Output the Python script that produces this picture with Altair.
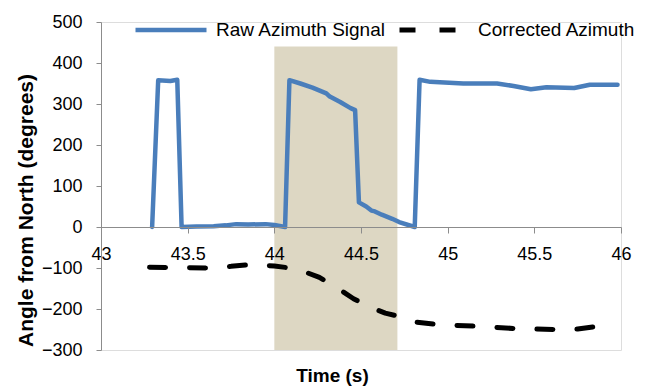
import altair as alt
import pandas as pd

# ---- data ----
raw_t = [43.295, 43.33, 43.40, 43.44, 43.465, 43.55, 43.65, 43.72, 43.78, 43.85, 43.95, 44.0,
         44.062, 44.087, 44.15, 44.22, 44.30, 44.32, 44.38, 44.44, 44.466, 44.488, 44.53, 44.56,
         44.58, 44.62, 44.68, 44.72, 44.81, 44.838, 44.90, 45.09, 45.285, 45.38, 45.48, 45.57,
         45.73, 45.82, 45.98]
raw_v = [0, 358, 356, 359, 0, 1, 2, 4, 7, 6, 7, 5,
         0, 358, 350, 340, 326, 318, 305, 290, 285, 60, 50, 40,
         38, 30, 20, 12, 0, 359, 354, 350, 350, 344, 336, 341,
         339, 347, 347]

cor_t = [43.28, 43.45, 43.61, 43.75, 43.85, 44.0, 44.09, 44.18, 44.26, 44.35, 44.457, 44.55,
         44.64, 44.71, 44.82, 44.94, 45.17, 45.40, 45.63, 45.75, 45.87]
cor_v = [-98, -99, -100, -96, -92, -95, -100, -110, -123, -145, -175, -195,
         -210, -217, -232, -238, -242, -248, -250, -249, -242]

shade_t = [44.0, 44.71]
shade_v = [-300, 440]

x_ticks = [43, 43.5, 44, 44.5, 45, 45.5, 46]
y_ticks = [-300, -200, -100, 0, 100, 200, 300, 400, 500]

raw_name = "Raw Azimuth Signal"
cor_name = "Corrected Azimuth"

raw_df = pd.DataFrame({"t": raw_t, "v": raw_v, "i": range(len(raw_t)), "s": raw_name})
cor_df = pd.DataFrame({"t": cor_t, "v": cor_v, "i": range(len(cor_t)), "s": cor_name})
shade_df = pd.DataFrame({"t0": [shade_t[0]], "t1": [shade_t[1]], "v0": [shade_v[0]], "v1": [shade_v[1]]})

FONT = "Liberation Sans"

xscale = alt.Scale(domain=[43, 46], nice=False, zero=False)
yscale = alt.Scale(domain=[-300, 500], nice=False)

xaxis = alt.Axis(values=x_ticks, format="~g", offset=-123, grid=False,
                 domainColor="#8c8c8c", tickColor="#8c8c8c", tickSize=6,
                 labelPadding=12, labelFontSize=18, labelColor="black", labelFont=FONT,
                 labelFlush=False, labelOverlap=False,
                 title="Time (s)", titleFont=FONT, titleFontSize=19, titleFontWeight="bold",
                 titleColor="black", titleX=231, titleY=139, titleBaseline="top",
                 titleAlign="center", titleAnchor="start", zindex=1)

yaxis = alt.Axis(values=y_ticks, format="d", grid=False,
                 domainColor="#8c8c8c", tickColor="#8c8c8c", tickSize=5,
                 labelPadding=14, labelFontSize=18, labelColor="black", labelFont=FONT,
                 labelFlush=False, labelOverlap=False,
                 title="Angle from North (degrees)", titleFont=FONT, titleFontSize=21,
                 titleFontWeight="bold", titleColor="black", titleX=-75, titleY=188,
                 titleAngle=270, titleBaseline="middle", titleAlign="center",
                 titleAnchor="start", zindex=1)

shade = alt.Chart(shade_df).mark_rect(color="#ddd7c3").encode(
    x=alt.X("t0:Q", scale=xscale, axis=xaxis),
    x2="t1:Q",
    y=alt.Y("v0:Q", scale=yscale, axis=yaxis),
    y2="v1:Q",
)

raw_line = alt.Chart(raw_df).mark_line(strokeWidth=4.5, strokeCap="round", strokeJoin="round").encode(
    x=alt.X("t:Q", scale=xscale),
    y=alt.Y("v:Q", scale=yscale),
    order="i:Q",
    color=alt.Color("s:N", scale=alt.Scale(domain=[raw_name], range=["#4a7ebb"]),
                    legend=alt.Legend(orient="none", legendX=32, legendY=-30, title=None,
                                      symbolType="stroke", symbolSize=5041, symbolStrokeWidth=4.5,
                                      labelFontSize=19, labelFont=FONT, labelColor="black",
                                      labelOffset=7, labelLimit=400, padding=0)),
)

cor_line = alt.Chart(cor_df).mark_line(strokeWidth=5, strokeCap="round", strokeJoin="round",
                                       color="black").encode(
    x=alt.X("t:Q", scale=xscale),
    y=alt.Y("v:Q", scale=yscale),
    order="i:Q",
    strokeDash=alt.StrokeDash("s:N", scale=alt.Scale(domain=[cor_name], range=[[16, 24]]),
                              legend=alt.Legend(orient="none", legendX=296, legendY=-25, title=None,
                                                symbolType="stroke", symbolSize=3721,
                                                symbolStrokeWidth=5, symbolStrokeColor="black",
                                                labelFontSize=19, labelFont=FONT, labelColor="black",
                                                labelOffset=15, labelLimit=400, padding=0)),
)

chart = alt.layer(shade, raw_line, cor_line).properties(
    width=520, height=328,
    autosize=alt.AutoSizeParams(type="none"),
    padding={"left": 93, "top": 14, "right": 22, "bottom": 42},
).configure_view(stroke=None).configure(font=FONT)

chart.save("out.html", embed_options={"renderer": "svg", "actions": False})
